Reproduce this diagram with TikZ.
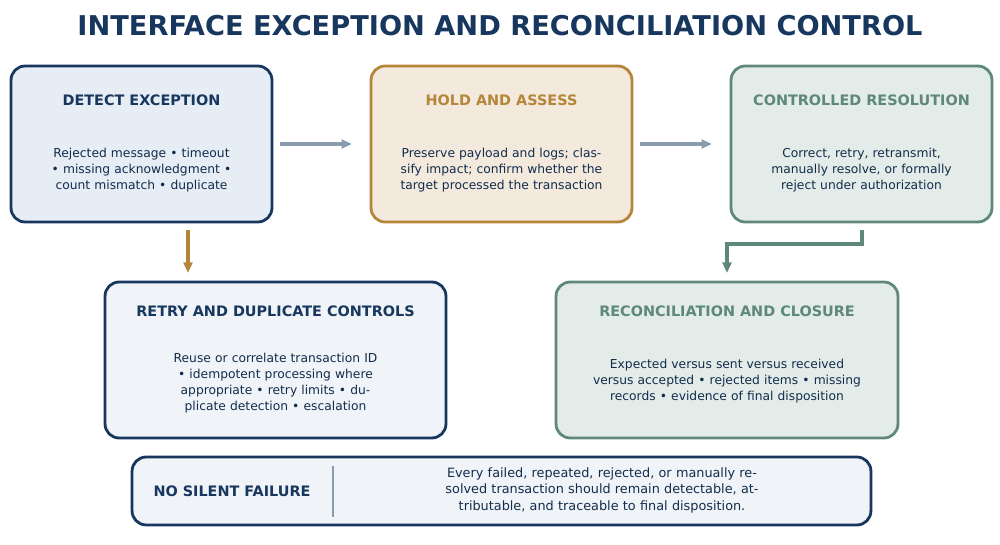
\documentclass[tikz,border=0pt]{standalone}
\usepackage{fontspec}
\setmainfont{DejaVu Sans}
\usetikzlibrary{arrows.meta, positioning}
\definecolor{navy}{HTML}{17375E}
\definecolor{gold}{HTML}{B5853A}
\definecolor{sage}{HTML}{5E8877}
\definecolor{steel}{HTML}{8A9BB0}
\definecolor{paleblue}{HTML}{E6EDF5}
\definecolor{palegold}{HTML}{F3E9DC}
\definecolor{palesage}{HTML}{E3ECE8}
\definecolor{palegray}{HTML}{F0F4F8}
\tikzset{
  box/.style={rectangle, rounded corners=8pt, line width=1.6pt, minimum width=5.22cm, minimum height=3.12cm},
  head/.style={font=\fontsize{8.2}{10}\selectfont\bfseries},
  body/.style={font=\fontsize{7}{9}\selectfont, text width=4.6cm, align=center, text=navy!80!black},
  flow/.style={-{Triangle[length=6pt,width=5pt]}, line width=2pt}
}
\begin{document}
\begin{tikzpicture}[x=0.02cm, y=-0.02cm]
\useasboundingbox (0,0) rectangle (1000,544);
% Title
\node[font=\fontsize{15.5}{18}\selectfont\bfseries, text=navy] (title) at (500,26) {INTERFACE EXCEPTION AND RECONCILIATION CONTROL};

% Boxes
\node[box, draw=navy, fill=paleblue] (detect) at (141.5,144) {};
\node[box, draw=gold, fill=palegold] (hold) at (501.5,144) {};
\node[box, draw=sage, fill=palesage] (resolve) at (861.5,144) {};
\node[box, draw=navy, fill=palegray, minimum width=6.82cm] (retry) at (275.5,360) {};
\node[box, draw=sage, fill=palesage, minimum width=6.84cm] (recon) at (727,360) {};
\node[box, draw=navy, fill=palegray, minimum width=14.78cm, minimum height=1.36cm] (silent) at (501.5,491) {};

% Text
\node[head, text=navy] at (detect.north) [yshift=-0.72cm] {DETECT EXCEPTION};
\node[body] at (detect.center) [yshift=-0.52cm] {Rejected message • timeout • missing acknowledgment • count mismatch • duplicate};

\node[head, text=gold] at (hold.north) [yshift=-0.72cm] {HOLD AND ASSESS};
\node[body] at (hold.center) [yshift=-0.52cm] {Preserve payload and logs; classify impact; confirm whether the target processed the transaction};

\node[head, text=sage] at (resolve.north) [yshift=-0.72cm] {CONTROLLED RESOLUTION};
\node[body, text width=4cm] at (resolve.center) [yshift=-0.52cm] {Correct, retry, retransmit, manually resolve, or formally reject under authorization};

\node[head, text=navy] at (retry.north) [yshift=-0.62cm] {RETRY AND DUPLICATE CONTROLS};
\node[body, text width=5.2cm] at (retry.center) [yshift=-0.46cm] {Reuse or correlate transaction ID • idempotent processing where appropriate • retry limits • duplicate detection • escalation};

\node[head, text=sage] at (recon.north) [yshift=-0.62cm] {RECONCILIATION AND CLOSURE};
\node[body, text width=5.4cm] at (recon.center) [yshift=-0.42cm] {Expected versus sent versus received versus accepted • rejected items • missing records • evidence of final disposition};

\node[head, text=navy] (silenthead) at (232,491) {NO SILENT FAILURE};
\draw[steel, line width=1pt] (333,466) -- (333,517);
\node[body, text width=9.2cm, font=\fontsize{7.3}{9.4}\selectfont] (silentbody) at (602,490) {Every failed, repeated, rejected, or manually resolved transaction should remain detectable, attributable, and traceable to final disposition.};

% Arrows
\draw[flow, steel] ([xshift=4pt]detect.east) -- ([xshift=-10pt]hold.west);
\draw[flow, steel] ([xshift=4pt]hold.east) -- ([xshift=-10pt]resolve.west);
\coordinate (goldstart) at (188,230);
\coordinate (goldend) at (188,273);
\draw[flow, gold] (goldstart) -- (goldend);
\coordinate (sagestart) at (862,230);
\coordinate (sageend) at (727,273);
\draw[flow, sage] (sagestart) |- (794,244) -| (sageend);
\end{tikzpicture}
\end{document}
